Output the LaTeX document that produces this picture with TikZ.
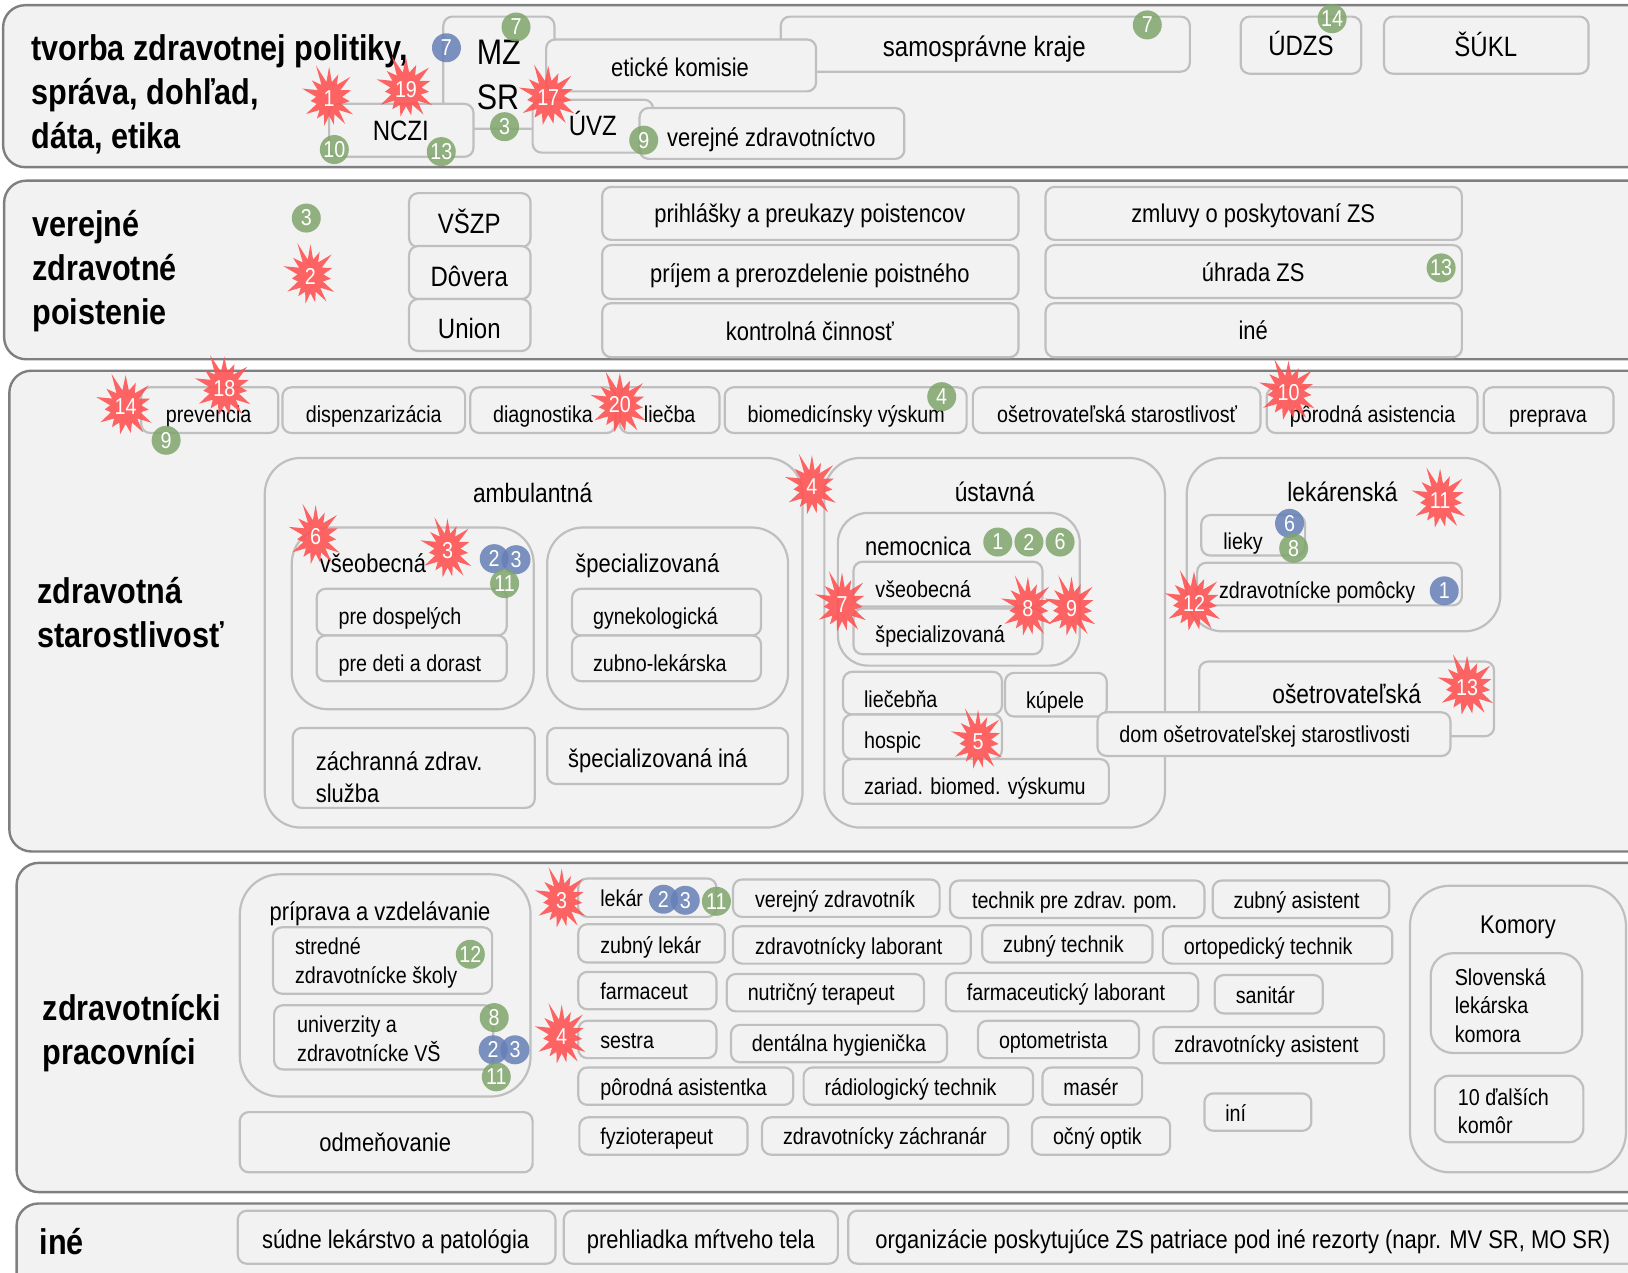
\documentclass[tikz,border=0pt]{standalone}
\usepackage{fontspec}
\setmainfont[FakeStretch=0.857]{Liberation Sans}
\usetikzlibrary{fit,shapes.symbols}
\definecolor{panelfill}{HTML}{F2F2F2}
\definecolor{panelline}{HTML}{7F7F7F}
\definecolor{boxline}{HTML}{BFBFBF}
\definecolor{badgegreen}{HTML}{7FA56B}
\definecolor{badgeblue}{HTML}{6580B6}
\definecolor{badgered}{HTML}{FF5050}
\tikzset{
  panel/.style={draw=panelline,fill=panelfill,line width=2.4pt,rounded corners=22pt},
  box/.style={draw=boxline,fill=panelfill,line width=2.2pt,rounded corners=9pt,inner sep=0pt,outer sep=0pt},
  group/.style={box,rounded corners=36pt},
  small/.style={font=\fontsize{23}{29}\selectfont,text height=14.5pt},
  mid/.style={font=\fontsize{25.6}{32}\selectfont,text height=16pt},
  hd/.style={font=\fontsize{26.6}{32}\selectfont,text height=16.5pt},
  large/.style={font=\fontsize{28}{34}\selectfont,text height=17.5pt},
  lef/.style={inner sep=0pt,text depth=0pt,anchor=west},
  cen/.style={inner sep=0pt,text depth=0pt,anchor=center},
  mlef/.style={inner sep=0pt,anchor=west,align=left,text height=,text depth=},
  title/.style={mlef,font=\fontsize{35.7}{44}\selectfont\bfseries},
  badge/.style={circle,inner sep=0pt,minimum size=29pt,fill opacity=.85,text opacity=1,text=white,font=\fontsize{23}{23}\selectfont},
  grn/.style={badge,fill=badgegreen},
  blu/.style={badge,fill=badgeblue},
  burst/.style={starburst,starburst points=15,starburst point height=20pt,random starburst=11,inner sep=0pt,minimum width=66pt,minimum height=74pt,fill=badgered,fill opacity=.88,text opacity=1,text=white,font=\fontsize{23}{23}\selectfont}
}
% name, corners, label options, label position, label
\newcommand{\bx}[9]{%
  \node[box,fit={(#2,#3)(#4,#5)}] (#1) {};
  \node[#6] (#1t) at (#7,#8) {#9};}
\newcommand{\gx}[5]{\node[group,fit={(#2,#3)(#4,#5)}] (#1) {};}
\begin{document}
\begin{tikzpicture}[x=1.03827pt,y=-1.03837pt]
  \clip (0,0) rectangle (1568,1225);
  % panels
  \node[panel,inner sep=0pt,fit={(3,5)(1590,161)}] (politika) {};
  \node[panel,inner sep=0pt,fit={(4,174)(1590,346)}] (poistenie) {};
  \node[panel,inner sep=0pt,fit={(9,357)(1590,820)}] (starost) {};
  \node[panel,inner sep=0pt,fit={(16,831)(1590,1148)}] (pracov) {};
  \node[panel,inner sep=0pt,fit={(16,1159)(1590,1260)}] (ine) {};
  \node[title] (politikat) at (30,91) {tvorba zdravotnej politiky,\\správa, dohľad,\\dáta, etika};
  \node[title] (poistenit) at (31,261) {verejné\\zdravotné\\poistenie};
  \node[title] (starostt) at (36,590) {zdravotná\\starostlivosť};
  \node[title] (pracovt) at (41,995) {zdravotnícki\\pracovníci};
  \node[title] (inet) at (38,1196) {iné};
  % riadenie
  \node[box,fit={(427,16)(534,124)}] (mz) {};
  \node[mlef,font=\fontsize{35.5}{44.6}\selectfont] (mzt) at (459,72) {MZ\\SR};
  \bx{samo}{752}{16}{1146}{69}{cen,large}{948}{46}{samosprávne kraje}
  \bx{etika}{526}{38}{786}{88}{cen,mid}{655}{66}{etické komisie}
  \bx{nczi}{317}{100}{456}{151}{cen,large}{386}{127}{NCZI}
  \bx{uvz}{513}{96}{629}{147}{cen,large}{571}{122}{ÚVZ}
  \bx{verz}{616}{104}{871}{153}{cen,mid}{743}{133}{verejné zdravotníctvo}
  \bx{udzs}{1195}{16}{1311}{71}{cen,large}{1253}{45}{ÚDZS}
  \bx{sukl}{1333}{16}{1530}{71}{cen,large}{1431}{46}{ŠÚKL}
  % poistovne
  \bx{vszp}{394}{186}{511}{238}{cen,large}{452}{216}{VŠZP}
  \bx{dovera}{394}{237}{511}{288}{cen,large}{452}{267}{Dôvera}
  \bx{union}{394}{288}{511}{338}{cen,large}{452}{318}{Union}
  \bx{prihl}{580}{180}{981}{231}{cen,mid}{780}{207}{prihlášky a preukazy poistencov}
  \bx{prijem}{580}{236}{981}{288}{cen,mid}{780}{264}{príjem a prerozdelenie poistného}
  \bx{kontr}{580}{292}{981}{344}{cen,mid}{780}{320}{kontrolná činnosť}
  \bx{zmluvy}{1007}{180}{1408}{231}{cen,mid}{1207}{207}{zmluvy o poskytovaní ZS}
  \bx{uhrada}{1007}{236}{1408}{287}{cen,mid}{1207}{263}{úhrada ZS}
  \bx{inep}{1007}{292}{1408}{344}{cen,mid}{1207}{319}{iné}
  % starostlivost, horny rad
  \bx{prev}{136}{373}{268}{417}{cen,small}{201}{400}{prevencia}
  \bx{disp}{272}{373}{448}{417}{cen,small}{360}{400}{dispenzarizácia}
  \bx{diag}{453}{373}{593}{417}{cen,small}{523}{400}{diagnostika}
  \bx{liecba}{597}{373}{693}{417}{cen,small}{645}{400}{liečba}
  \bx{biomed}{698}{373}{931}{417}{cen,small}{815}{400}{biomedicínsky výskum}
  \bx{oset}{937}{373}{1214}{417}{cen,small}{1076}{400}{ošetrovateľská starostlivosť}
  \bx{porod}{1220}{373}{1423}{417}{cen,small}{1322}{400}{pôrodná asistencia}
  \bx{prep}{1429}{373}{1554}{417}{cen,small}{1491}{400}{preprava}
  % ambulantna
  \gx{amb}{255}{441}{773}{797}
  \node[cen,hd] (ambt) at (513,476) {ambulantná};
  \gx{vseob}{281}{508}{514}{683}
  \node[lef,mid] (vseobt) at (308,544) {všeobecná};
  \bx{dosp}{305}{567}{488}{612}{lef,small}{326}{594}{pre dospelých}
  \bx{deti}{305}{612}{488}{656}{lef,small}{326}{640}{pre deti a dorast}
  \gx{spec}{527}{508}{759}{683}
  \node[lef,mid] (spect) at (554,544) {špecializovaná};
  \bx{gyn}{551}{567}{733}{612}{lef,small}{571}{594}{gynekologická}
  \bx{zub}{551}{612}{733}{656}{lef,small}{571}{640}{zubno-lekárska}
  \bx{zach}{282}{701}{515}{778}{mid,mlef}{304}{748}{záchranná zdrav.\\služba}
  \bx{speci}{527}{701}{759}{755}{lef,mid}{547}{731}{špecializovaná iná}
  % ustavna
  \gx{ust}{794}{441}{1122}{797}
  \node[cen,hd] (ustt) at (958,475) {ústavná};
  \node[group,rounded corners=30pt,fit={(807,494)(1040,641)}] (nem) {};
  \node[lef,mid] (nemt) at (833,527) {nemocnica};
  \bx{nvseob}{822}{541}{1004}{584}{lef,small}{843}{568}{všeobecná}
  \bx{nspec}{822}{586}{1004}{630}{lef,small}{843}{612}{špecializovaná}
  \bx{liec}{812}{647}{965}{688}{lef,small}{832}{674}{liečebňa}
  \bx{kup}{968}{648}{1066}{690}{lef,small}{988}{675}{kúpele}
  \bx{hosp}{812}{688}{965}{731}{lef,small}{832}{714}{hospic}
  \bx{zar}{812}{731}{1068}{774}{lef,small}{832}{758}{zariad. biomed. výskumu}
  % lekarenska, osetrovatelska
  \gx{lek}{1143}{441}{1445}{608}
  \node[cen,hd] (lekt) at (1293,475) {lekárenská};
  \bx{lieky}{1157}{496}{1257}{535}{lef,small}{1178}{522}{lieky}
  \bx{pom}{1153}{542}{1408}{583}{lef,small}{1174}{569}{zdravotnícke pomôcky}
  \node[box,fit={(1155,637)(1439,709)}] (os) {};
  \node[cen,hd] (ost) at (1297,670) {ošetrovateľská};
  \bx{dom}{1057}{686}{1397}{728}{lef,small}{1078}{708}{dom ošetrovateľskej starostlivosti}
  % pracovnici
  \node[group,rounded corners=40pt,fit={(231,842)(511,1056)}] (prip) {};
  \node[cen,mid] (pript) at (366,879) {príprava a vzdelávanie};
  \bx{stred}{263}{893}{474}{957}{small,mlef}{284}{927}{stredné\\zdravotnícke školy}
  \bx{univ}{264}{968}{475}{1030}{small,mlef}{286}{1000}{univerzity a\\zdravotnícke VŠ}
  \bx{odm}{231}{1071}{513}{1129}{cen,mid}{371}{1101}{odmeňovanie}
  \bx{lekar}{557}{846}{690}{883}{lef,small}{578}{866}{lekár}
  \bx{verzd}{706}{847}{905}{883}{lef,small}{727}{867}{verejný zdravotník}
  \bx{techn}{915}{848}{1160}{884}{lef,small}{936}{868}{technik pre zdrav. pom.}
  \bx{zubas}{1168}{848}{1338}{884}{lef,small}{1188}{868}{zubný asistent}
  \bx{zublek}{557}{890}{698}{927}{lef,small}{578}{911}{zubný lekár}
  \bx{zdlab}{706}{892}{935}{928}{lef,small}{727}{912}{zdravotnícky laborant}
  \bx{zubtech}{946}{891}{1110}{927}{lef,small}{966}{910}{zubný technik}
  \bx{orto}{1120}{892}{1341}{928}{lef,small}{1140}{912}{ortopedický technik}
  \bx{farm}{557}{936}{690}{972}{lef,small}{578}{956}{farmaceut}
  \bx{nutr}{700}{938}{890}{974}{lef,small}{720}{957}{nutričný terapeut}
  \bx{farmlab}{911}{937}{1154}{974}{lef,small}{931}{957}{farmaceutický laborant}
  \bx{sanit}{1170}{939}{1274}{976}{lef,small}{1190}{959}{sanitár}
  \bx{sestra}{557}{983}{690}{1019}{lef,small}{578}{1003}{sestra}
  \bx{dent}{704}{987}{912}{1023}{lef,small}{724}{1006}{dentálna hygienička}
  \bx{opto}{942}{983}{1097}{1019}{lef,small}{962}{1003}{optometrista}
  \bx{zdas}{1111}{989}{1333}{1024}{lef,small}{1131}{1007}{zdravotnícky asistent}
  \bx{poras}{557}{1028}{764}{1064}{lef,small}{578}{1048}{pôrodná asistentka}
  \bx{rad}{774}{1028}{995}{1064}{lef,small}{794}{1048}{rádiologický technik}
  \bx{maser}{1004}{1028}{1100}{1064}{lef,small}{1024}{1048}{masér}
  \bx{ini}{1160}{1053}{1263}{1089}{lef,small}{1180}{1073}{iní}
  \bx{fyzio}{558}{1076}{720}{1112}{lef,small}{578}{1095}{fyzioterapeut}
  \bx{zach2}{734}{1076}{971}{1112}{lef,small}{754}{1095}{zdravotnícky záchranár}
  \bx{ocny}{994}{1076}{1127}{1112}{lef,small}{1014}{1095}{očný optik}
  % komory
  \node[group,rounded corners=40pt,fit={(1358,853)(1566,1129)}] (kom) {};
  \node[cen,mid] (komt) at (1462,891) {Komory};
  \node[group,rounded corners=22pt,fit={(1378,918)(1524,1014)}] (slk) {};
  \node[mlef,font=\fontsize{23}{28.5}\selectfont] (slkt) at (1401,968) {Slovenská\\lekárska\\komora};
  \node[group,rounded corners=14pt,fit={(1382,1036)(1525,1100)}] (dalsie) {};
  \node[mlef,font=\fontsize{23}{28.5}\selectfont] (dalsiet) at (1404,1070) {10 ďalších\\komôr};
  % ine
  \bx{sud}{229}{1166}{535}{1217}{cen,mid}{381}{1195}{súdne lekárstvo a patológia}
  \bx{mrtv}{543}{1166}{807}{1217}{cen,mid}{675}{1195}{prehliadka mŕtveho tela}
  \bx{rez}{817}{1166}{1590}{1217}{lef,mid}{843}{1195}{organizácie poskytujúce ZS patriace pod iné rezorty (napr. MV SR, MO SR)}
  % cisla
  \node[grn] (g1) at (497,26) {7};
  \node[blu] (b1) at (430,46) {7};
  \node[grn] (g2) at (486,122) {3};
  \node[grn] (g3) at (322,144) {10};
  \node[grn] (g4) at (425,146) {13};
  \node[grn] (g5) at (620,135) {9};
  \node[grn] (g6) at (1105,24) {7};
  \node[grn] (g7) at (1283,18) {14};
  \node[grn] (g8) at (295,210) {3};
  \node[grn] (g9) at (1388,258) {13};
  \node[grn] (g10) at (160,424) {9};
  \node[grn] (g11) at (907,382) {4};
  \node[blu] (b2) at (476,538) {2};
  \node[blu] (b3) at (497,539) {3};
  \node[grn] (g12) at (486,562) {11};
  \node[grn] (g13) at (961,522) {1};
  \node[grn] (g14) at (991,522) {2};
  \node[grn] (g15) at (1021,522) {6};
  \node[blu] (b4) at (1242,504) {6};
  \node[grn] (g16) at (1246,528) {8};
  \node[blu] (b5) at (1391,569) {1};
  \node[grn] (g17) at (453,919) {12};
  \node[grn] (g18) at (476,980) {8};
  \node[blu] (b6) at (475,1011) {2};
  \node[blu] (b7) at (496,1011) {3};
  \node[grn] (g19) at (478,1037) {11};
  \node[blu] (b8) at (639,866) {2};
  \node[blu] (b9) at (660,867) {3};
  \node[grn] (g20) at (690,868) {11};
  % hviezdy
  \node[burst] (s1) at (317,95) {1};
  \node[burst] (s2) at (299,266) {2};
  \node[burst] (s19) at (391,86) {19};
  \node[burst] (s17) at (528,94) {17};
  \node[burst] (s14) at (121,392) {14};
  \node[burst] (s18) at (216,374) {18};
  \node[burst] (s20) at (597,390) {20};
  \node[burst] (s10) at (1241,378) {10};
  \node[burst] (s6) at (304,517) {6};
  \node[burst] (s3) at (431,530) {3};
  \node[burst] (s4) at (782,469) {4};
  \node[burst] (s7) at (811,582) {7};
  \node[burst] (s8) at (990,586) {8};
  \node[burst] (s9) at (1032,586) {9};
  \node[burst] (s5) at (942,714) {5};
  \node[burst] (s11) at (1387,482) {11};
  \node[burst] (s12) at (1150,581) {12};
  \node[burst] (s13) at (1413,662) {13};
  \node[burst] (s3b) at (541,867) {3};
  \node[burst] (s4b) at (541,998) {4};
\end{tikzpicture}
\end{document}
